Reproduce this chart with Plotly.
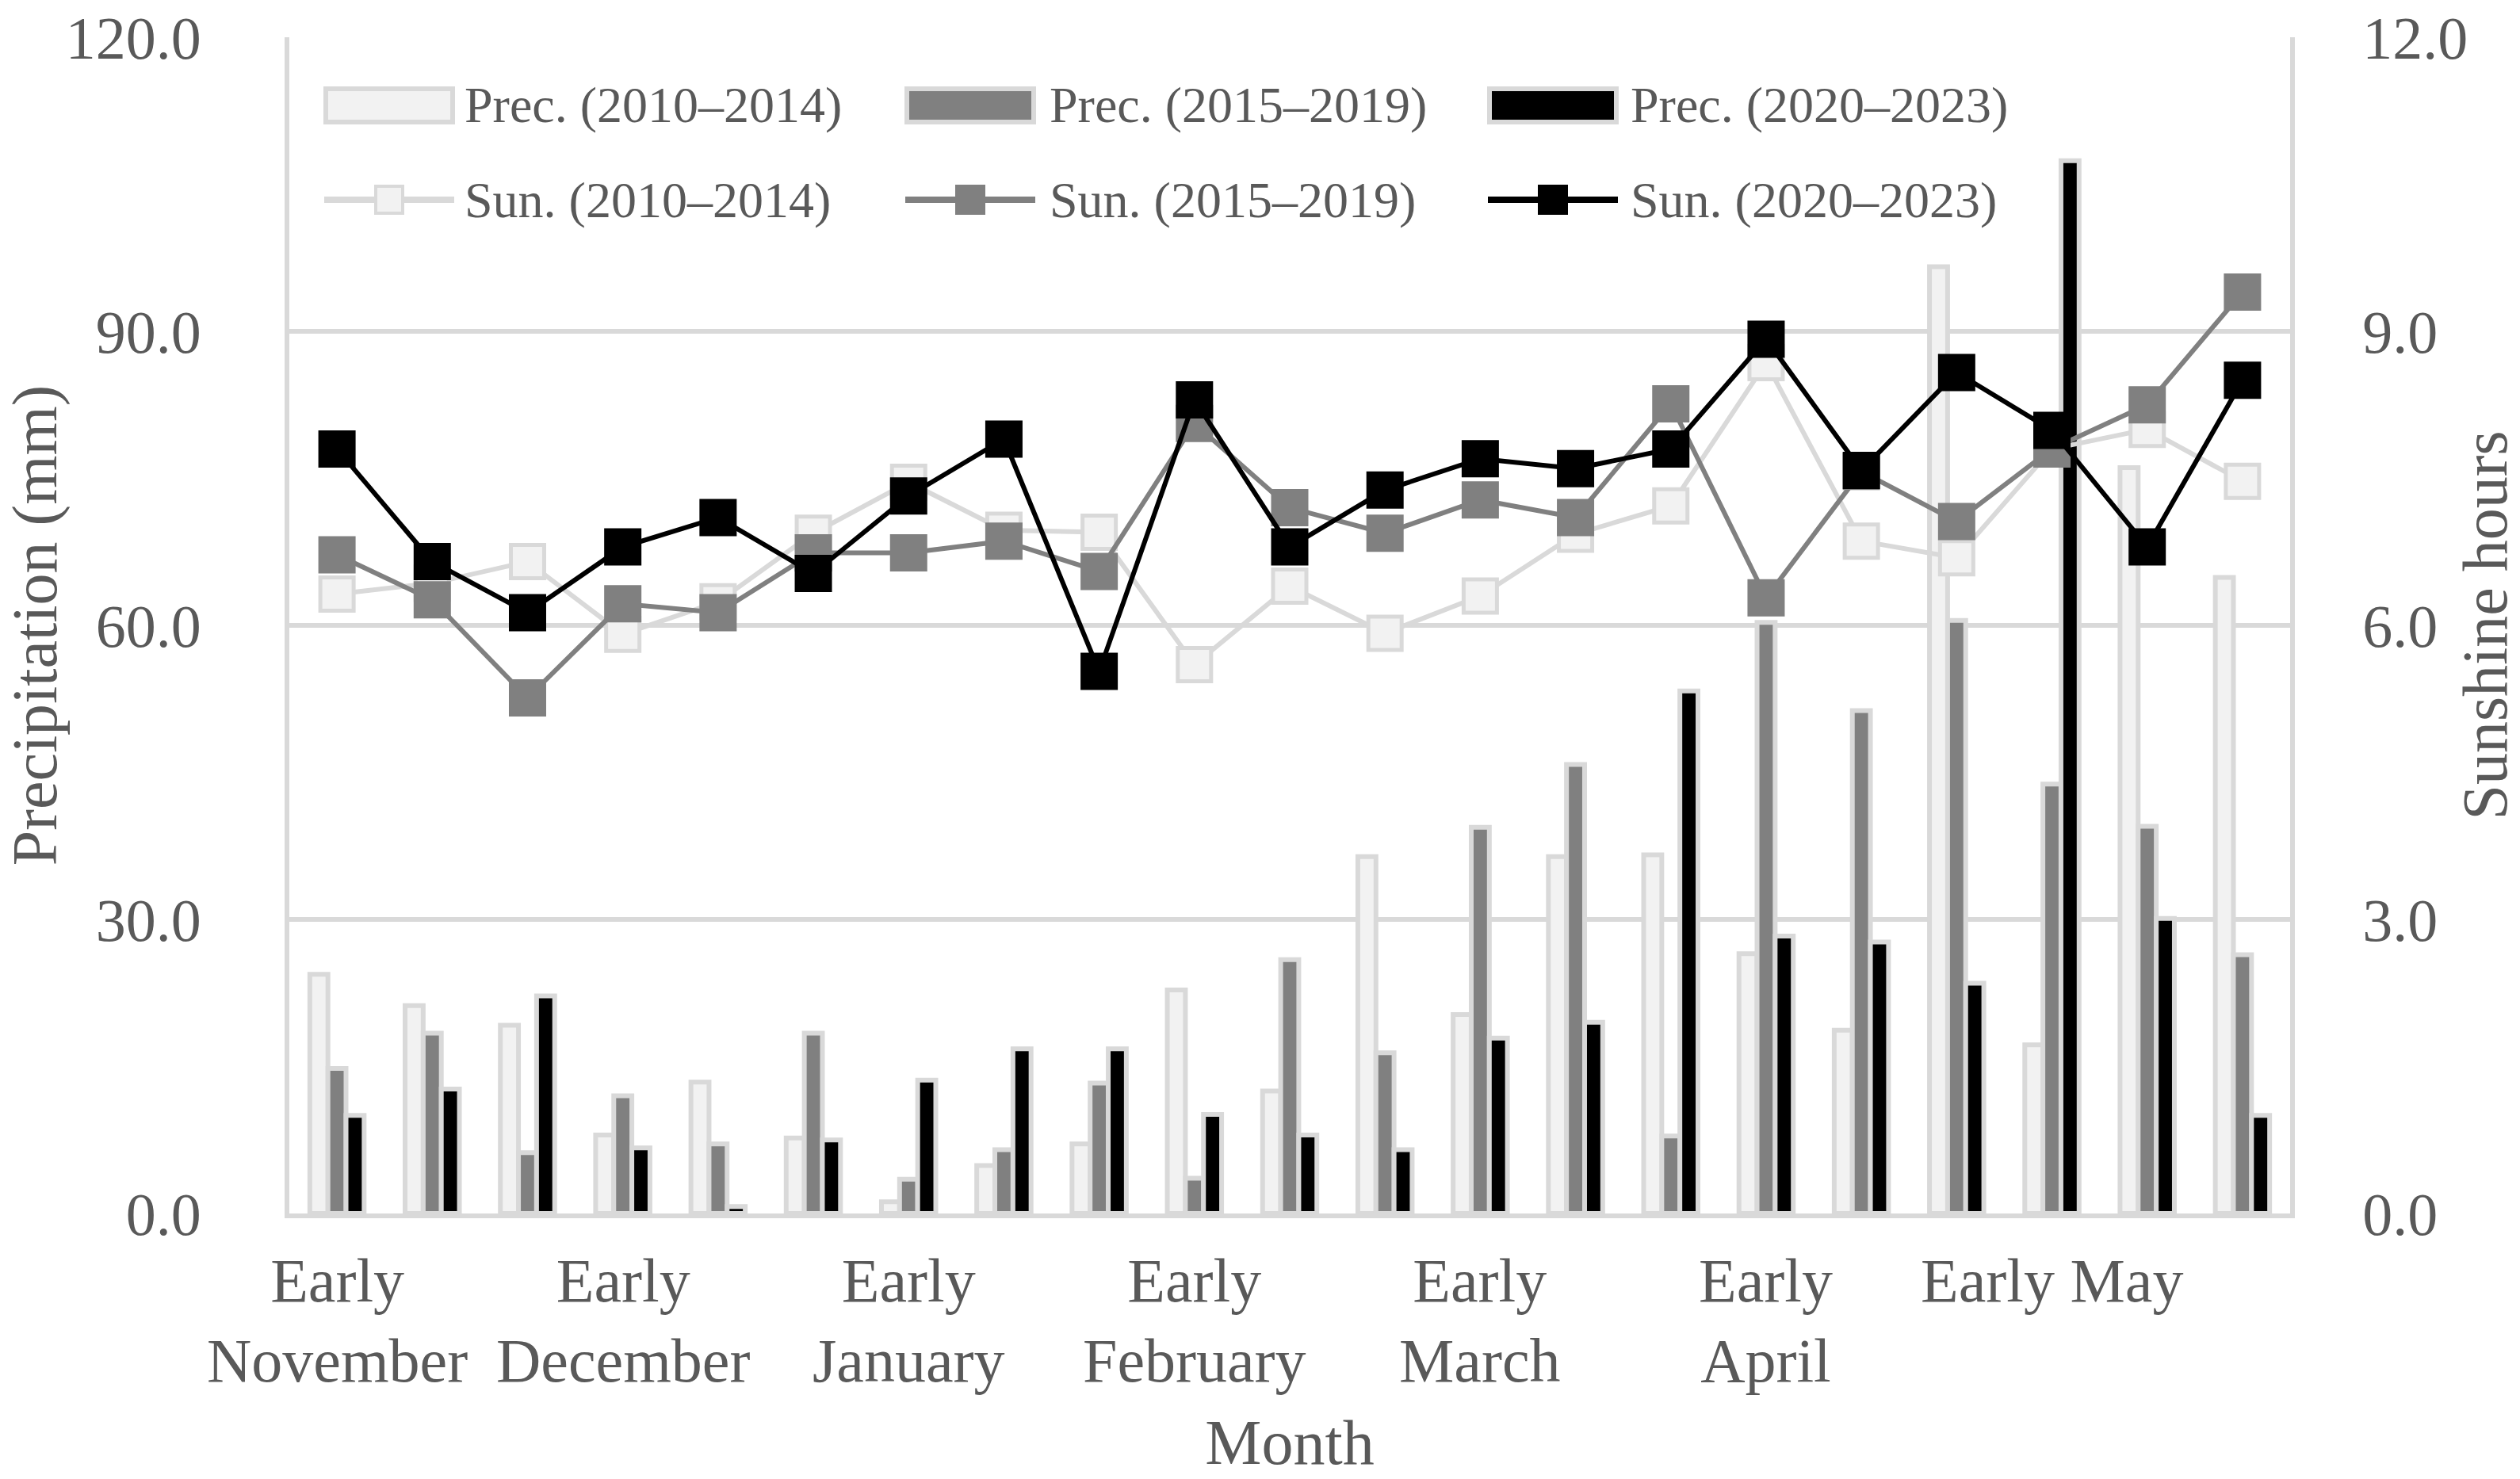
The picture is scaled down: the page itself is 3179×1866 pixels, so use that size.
import plotly.graph_objects as go

# ---------------- data ----------------
categories = [
    "Early November", "Mid November", "Late November",
    "Early December", "Mid December", "Late December",
    "Early January", "Mid January", "Late January",
    "Early February", "Mid February", "Late February",
    "Early March", "Mid March", "Late March",
    "Early April", "Mid April", "Late April",
    "Early May", "Mid May", "Late May",
]
tick_categories = ["Early November", "Early December", "Early January", "Early February",
                   "Early March", "Early April", "Early May"]
tick_labels = ["Early<br>November", "Early<br>December", "Early<br>January", "Early<br>February",
               "Early<br>March", "Early<br>April", "Early May"]

prec_names = ["Prec. (2010–2014)", "Prec. (2015–2019)", "Prec. (2020–2023)"]
sun_names = ["Sun. (2010–2014)", "Sun. (2015–2019)", "Sun. (2020–2023)"]

prec_2010_2014 = [24.4, 21.2, 19.2, 8.0, 13.4, 7.7, 1.2, 4.9, 7.1, 22.8, 12.5, 36.4, 20.3, 36.4, 36.6,
                  26.5, 18.7, 96.6, 17.2, 76.1, 64.9]
prec_2015_2019 = [14.8, 18.4, 6.2, 12.0, 7.1, 18.4, 3.5, 6.5, 13.3, 3.6, 25.9, 16.4, 39.4, 45.8, 7.9,
                  60.3, 51.3, 60.5, 43.8, 39.5, 26.4]
prec_2020_2023 = [10.0, 12.7, 22.2, 6.7, 0.7, 7.5, 13.6, 16.8, 16.8, 10.1, 8.0, 6.5, 17.9, 19.5, 53.3,
                  28.3, 27.7, 23.5, 107.4, 30.1, 10.0]

sun_2010_2014 = [6.32, 6.43, 6.65, 5.91, 6.24, 6.94, 7.46, 6.97, 6.95, 5.60, 6.40, 5.92, 6.30, 6.93, 7.22,
                 8.68, 6.86, 6.69, 7.80, 8.00, 7.47]
sun_2015_2019 = [6.72, 6.26, 5.26, 6.22, 6.13, 6.74, 6.74, 6.86, 6.55, 8.06, 7.20, 6.94, 7.28, 7.10, 8.26,
                 6.28, 7.57, 7.06, 7.80, 8.25, 9.40]
sun_2020_2023 = [7.80, 6.65, 6.13, 6.80, 7.10, 6.53, 7.32, 7.90, 5.53, 8.30, 6.80, 7.38, 7.70, 7.60, 7.80,
                 8.92, 7.58, 8.58, 7.99, 6.80, 8.50]

# ---------------- styles ----------------
FONT = "Liberation Serif"
TXT = "#595959"
GRID = "#d9d9d9"
fills = ["#f2f2f2", "#808080", "#000000"]
line_cols = ["#d9d9d9", "#808080", "#000000"]
marker_edges = ["#d9d9d9", "#808080", "#000000"]

W, H = 3179, 1866
L, R, T, B = 365, 290, 47, 335
TICK_SIZE = 78
TITLE_SIZE = 80
LEG_SIZE = 64

fig = go.Figure()

for name, vals, fc in zip(prec_names, [prec_2010_2014, prec_2015_2019, prec_2020_2023], fills):
    fig.add_trace(go.Bar(
        x=categories, y=vals, name=name, yaxis="y",
        marker=dict(color=fc, line=dict(color=GRID, width=6)),
        showlegend=False,
    ))

for name, vals, fc, lc, ec in zip(sun_names, [sun_2010_2014, sun_2015_2019, sun_2020_2023],
                                  fills, line_cols, marker_edges):
    fig.add_trace(go.Scatter(
        x=categories, y=vals, name=name, yaxis="y2", mode="lines+markers",
        line=dict(color=lc, width=6),
        marker=dict(symbol="square", size=42, color=fc, line=dict(color=ec, width=5)),
        showlegend=False, cliponaxis=False,
    ))

# ---------------- pixel -> paper helpers ----------------
PW, PH = W - L - R, H - T - B


def px(xp):
    return (xp - L) / PW


def py(yp):
    return (H - B - yp) / PH


shapes = []
annotations = []

# manual legend
col_x = [411, 1144, 1879]
text_x = [584, 1322, 2055]
row_y = [133, 252]
for i in range(3):
    x0 = col_x[i]
    shapes.append(dict(type="rect", xref="paper", yref="paper",
                       x0=px(x0), x1=px(x0 + 160), y0=py(row_y[0] + 21), y1=py(row_y[0] - 21),
                       fillcolor=fills[i], line=dict(color=GRID, width=6)))
    annotations.append(dict(xref="paper", yref="paper", x=px(text_x[i]), y=py(row_y[0]),
                            text=prec_names[i], showarrow=False, xanchor="left", yanchor="middle",
                            font=dict(family=FONT, size=LEG_SIZE, color=TXT)))
    shapes.append(dict(type="line", xref="paper", yref="paper",
                       x0=px(x0 - 2), x1=px(x0 + 162), y0=py(row_y[1]), y1=py(row_y[1]),
                       line=dict(color=line_cols[i], width=8)))
    cx = x0 + 80
    shapes.append(dict(type="rect", xref="paper", yref="paper",
                       x0=px(cx - 17), x1=px(cx + 17), y0=py(row_y[1] + 17), y1=py(row_y[1] - 17),
                       fillcolor=fills[i], line=dict(color=marker_edges[i], width=4)))
    annotations.append(dict(xref="paper", yref="paper", x=px(text_x[i]), y=py(row_y[1]),
                            text=sun_names[i], showarrow=False, xanchor="left", yanchor="middle",
                            font=dict(family=FONT, size=LEG_SIZE, color=TXT)))

# x-axis category labels
for cat, lab in zip(tick_categories, tick_labels):
    two_lines = "<br>" in lab
    annotations.append(dict(xref="x", yref="paper", x=cat,
                            y=py(1570), text=lab, showarrow=False,
                            xanchor="center", yanchor="top",
                            font=dict(family=FONT, size=TICK_SIZE, color=TXT)))

fig.update_layout(
    width=W, height=H,
    margin=dict(l=L, r=R, t=T, b=B, autoexpand=False),
    paper_bgcolor="white", plot_bgcolor="white",
    font=dict(family=FONT, size=TICK_SIZE, color=TXT),
    barmode="group", bargap=0.43, bargroupgap=0,
    showlegend=False,
    shapes=shapes, annotations=annotations,
    xaxis=dict(
        type="category", categoryorder="array", categoryarray=categories,
        range=[-0.5, 20.5],
        showticklabels=False,
        ticks="", showgrid=False, zeroline=False,
        showline=True, linecolor=GRID, linewidth=6,
        title=dict(text="Month", font=dict(family=FONT, size=TITLE_SIZE, color=TXT), standoff=257),
        automargin=False,
    ),
    yaxis=dict(
        range=[0, 120], tick0=0, dtick=30, tickformat=".1f",
        showgrid=True, gridcolor=GRID, gridwidth=6,
        zeroline=False, showline=True, linecolor=GRID, linewidth=6,
        ticks="", ticklabelstandoff=90,
        tickfont=dict(family=FONT, size=76, color=TXT),
        title=dict(text="Precipitation (mm)", font=dict(family=FONT, size=TITLE_SIZE, color=TXT), standoff=14),
        automargin=False,
    ),
    yaxis2=dict(
        range=[0, 12], tick0=0, dtick=3, tickformat=".1f",
        overlaying="y", side="right",
        showgrid=False, zeroline=False, showline=True, linecolor=GRID, linewidth=6,
        ticks="", ticklabelstandoff=70,
        tickfont=dict(family=FONT, size=76, color=TXT),
        title=dict(text="Sunshine hours", font=dict(family=FONT, size=TITLE_SIZE, color=TXT), standoff=8),
        automargin=False,
    ),
)

fig.write_html("out.html", config={"displayModeBar": False},
               post_script="document.body.style.margin='0';")
